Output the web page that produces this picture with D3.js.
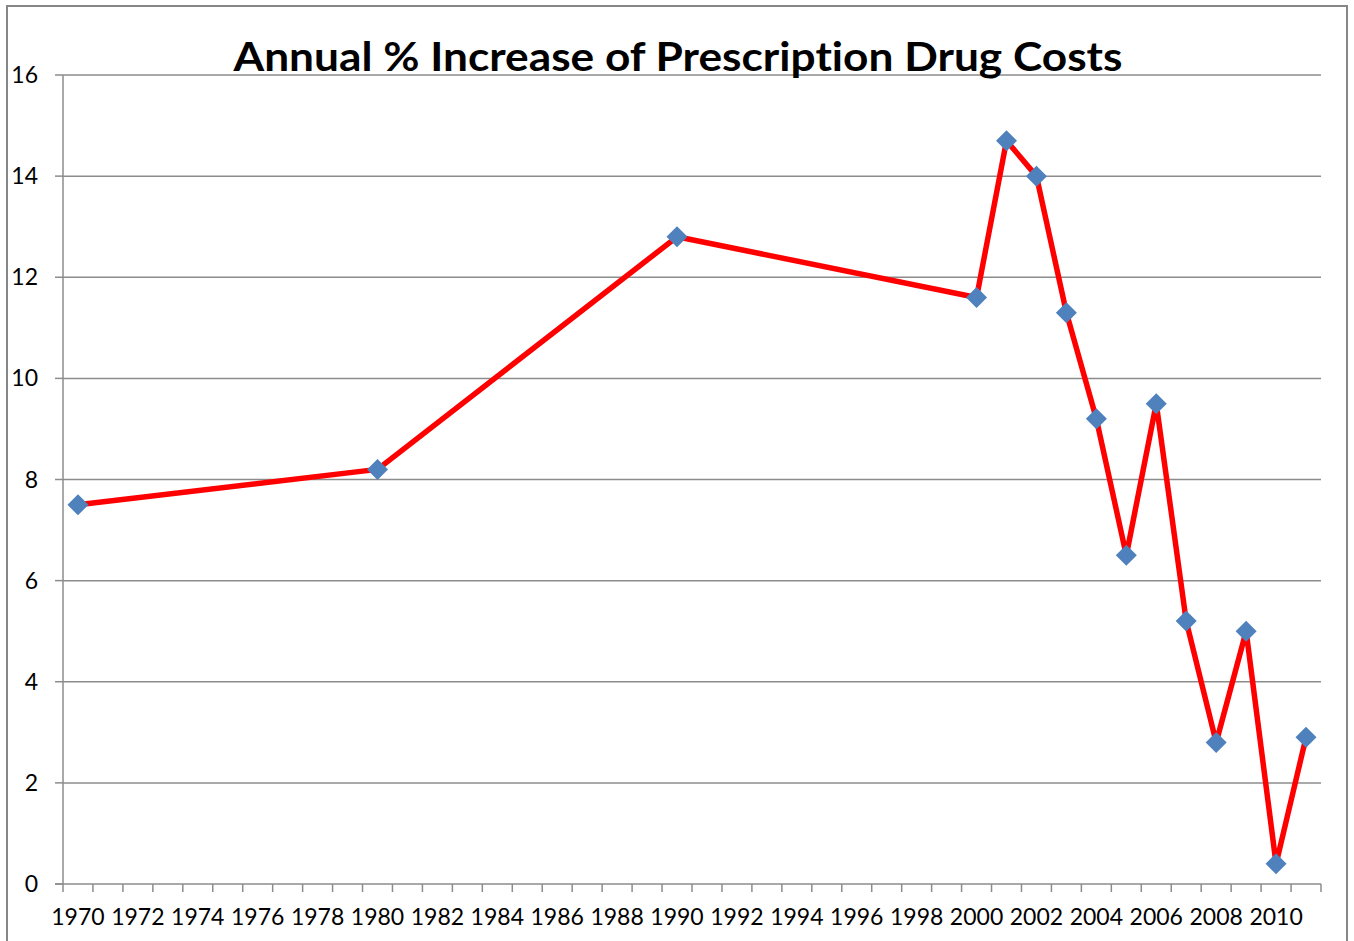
<!DOCTYPE html>
<html><head><meta charset="utf-8">
<script src="https://cdn.jsdelivr.net/npm/d3@7"></script>
<style>body{margin:0;background:#fff}svg{display:block}text{font-variant-ligatures:none;font-feature-settings:"liga" 0}</style>
</head><body>
<svg id="c" width="1354" height="941"></svg>
<script>
const title = "Annual % Increase of Prescription Drug Costs";
const years = [1970,1980,1990,2000,2001,2002,2003,2004,2005,2006,2007,2008,2009,2010,2011];
const values = [7.5,8.2,12.8,11.6,14.7,14.0,11.3,9.2,6.5,9.5,5.2,2.8,5.0,0.4,2.9];
const yTicks = [0,2,4,6,8,10,12,14,16];
const allYears = d3.range(1970, 2012);
const labelYears = allYears.filter(y => y % 2 === 0);

const svg = d3.select("#c");
const L = 63, R = 1321, T = 75, B = 884;
const x = d3.scaleBand().domain(allYears).range([L, R]).padding(0);
const y = d3.scaleLinear().domain([0,16]).range([B, T]);
const font = "Lato, 'Open Sans', sans-serif";
const gridC = "#8c8c8c";

// frame
svg.append("rect").attr("x",7).attr("y",6).attr("width",1340).attr("height",960)
  .attr("fill","none").attr("stroke","#878787").attr("stroke-width",2);

// gridlines
svg.append("g").selectAll("line").data(yTicks.filter(d=>d>0)).join("line")
  .attr("x1",L).attr("x2",R).attr("y1",d=>y(d)).attr("y2",d=>y(d))
  .attr("stroke",gridC).attr("stroke-width",1.5);

// y axis
svg.append("line").attr("x1",L).attr("x2",L).attr("y1",T).attr("y2",B)
  .attr("stroke",gridC).attr("stroke-width",1.5);
svg.append("g").selectAll("line").data(yTicks).join("line")
  .attr("x1",L-8).attr("x2",L).attr("y1",d=>y(d)).attr("y2",d=>y(d))
  .attr("stroke",gridC).attr("stroke-width",1.5);
svg.append("g").selectAll("text").data(yTicks).join("text")
  .attr("x",38).attr("y",d=>y(d)).attr("dy","0.35em").attr("text-anchor","end")
  .attr("font-family",font).attr("font-size",23).attr("fill","#000").text(d=>d);

// x axis
svg.append("line").attr("x1",L-8).attr("x2",R).attr("y1",B).attr("y2",B)
  .attr("stroke",gridC).attr("stroke-width",1.5);
const bounds = allYears.map(d=>x(d)).concat([R]);
svg.append("g").selectAll("line").data(bounds).join("line")
  .attr("x1",d=>d).attr("x2",d=>d).attr("y1",B).attr("y2",B+8)
  .attr("stroke",gridC).attr("stroke-width",1.5);
svg.append("g").selectAll("text").data(labelYears).join("text")
  .attr("x",d=>x(d)+x.bandwidth()/2).attr("y",917).attr("dy","0.35em").attr("text-anchor","middle")
  .attr("font-family",font).attr("font-size",23).attr("fill","#000").text(d=>d);

// line
const cx = d => x(d)+x.bandwidth()/2;
const line = d3.line().x((d,i)=>cx(years[i])).y(d=>y(d));
svg.append("path").datum(values).attr("d",line).attr("fill","none")
  .attr("stroke","#ff0000").attr("stroke-width",5.5).attr("stroke-linejoin","round");

// markers
svg.append("g").selectAll("path").data(values).join("path")
  .attr("transform",(d,i)=>`translate(${cx(years[i])},${y(d)})`)
  .attr("d","M0,-10.5L10.5,0L0,10.5L-10.5,0Z").attr("fill","#4f81bd");

// title
svg.append("text").attr("x",678).attr("y",57).attr("dy","0.35em").attr("text-anchor","middle")
  .attr("font-family",font).attr("font-weight","bold").attr("font-size",40)
  .attr("textLength",889).attr("lengthAdjust","spacingAndGlyphs").attr("fill","#000").text(title);
</script>
</body></html>
